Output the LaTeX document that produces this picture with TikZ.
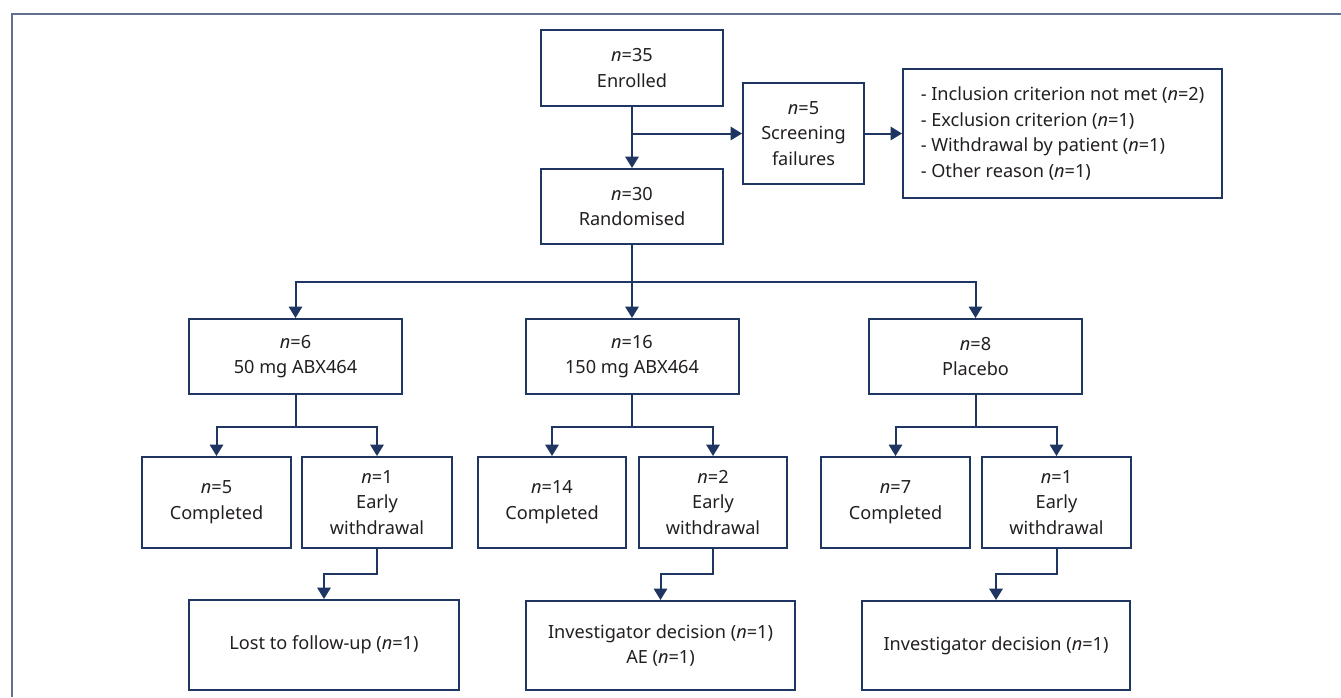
\documentclass[tikz,border=0pt]{standalone}
\usepackage{fontspec}
\setmainfont{Noto Sans}
\usetikzlibrary{arrows.meta}
\definecolor{navy}{HTML}{1F3662}
\definecolor{frame}{HTML}{627091}
\definecolor{txt}{HTML}{231F20}
\begin{document}
\begin{tikzpicture}[x=0.75pt,y=-0.75pt,
  box/.style 2 args={draw=navy,line width=1.5pt,fill=white,inner sep=0pt,
    minimum width=#1*0.75pt,minimum height=#2*0.75pt,align=center,
    text=txt,font=\fontsize{13.6}{19.3}\selectfont},
  conn/.style={draw=navy,line width=1.5pt},
  arr/.style={conn,-{Triangle[width=10pt,length=8.5pt]}}]
\useasboundingbox (0,0) rectangle (1341,697);
\draw[frame,line width=1.5pt] (12,697) -- (12,14) -- (1341,14);

\node[box={182}{76}] (enr) at (632,68) {\textit{n}=35\\Enrolled};
\node[box={182}{75}] (rand) at (632,206.5) {\textit{n}=30\\Randomised};
\node[box={121}{101}] (scr) at (803.5,133.5) {\textit{n}=5\\Screening\\failures};
\node[box={319}{129}, align=left] (rsn) at (1062.5,133.5)
  {- Inclusion criterion not met (\textit{n}=2)\\- Exclusion criterion (\textit{n}=1)\\- Withdrawal by patient (\textit{n}=1)\\- Other reason (\textit{n}=1)};

\node[box={213}{75}] (g1) at (295.5,356.5) {\textit{n}=6\\50 mg ABX464};
\node[box={213}{75}] (g2) at (632,356.5) {\textit{n}=16\\150 mg ABX464};
\node[box={213}{75}] (g3) at (975.5,356.5) {\textit{n}=8\\Placebo};

\node[box={149}{91}] (c1) at (216.5,502.5) {\textit{n}=5\\Completed};
\node[box={150}{91}] (e1) at (377,502.5) {\textit{n}=1\\Early\\withdrawal};
\node[box={148}{91}] (c2) at (552,502.5) {\textit{n}=14\\Completed};
\node[box={148}{91}] (e2) at (713,502.5) {\textit{n}=2\\Early\\withdrawal};
\node[box={149}{91}] (c3) at (895.5,502.5) {\textit{n}=7\\Completed};
\node[box={149}{91}] (e3) at (1056.5,502.5) {\textit{n}=1\\Early\\withdrawal};

\node[box={270}{90}] (l1) at (324,645) {Lost to follow-up (\textit{n}=1)};
\node[box={269}{89}] (l2) at (660.5,645.5) {Investigator decision (\textit{n}=1)\\AE (\textit{n}=1)};
\node[box={268}{89}] (l3) at (996,645.5) {Investigator decision (\textit{n}=1)};

\coordinate (yb) at (0,282);
\coordinate (ys) at (0,427);
\coordinate (yl) at (0,574);

\draw[arr] (enr.south) -- (rand.north);
\draw[arr] (enr.south |- scr.west) -- (scr.west);
\draw[arr] (scr.east) -- (rsn.west);

\draw[arr] (rand.south) -- (g2.north);
\draw[arr] (rand.south |- yb) -| (g1.north);
\draw[arr] (rand.south |- yb) -| (g3.north);

\draw[conn] (g1.south) -- (g1.south |- ys);
\draw[arr] (g1.south |- ys) -| (c1.north);
\draw[arr] (g1.south |- ys) -| (e1.north);
\draw[conn] (g2.south) -- (g2.south |- ys);
\draw[arr] (g2.south |- ys) -| (c2.north);
\draw[arr] (g2.south |- ys) -| (e2.north);
\draw[conn] (g3.south) -- (g3.south |- ys);
\draw[arr] (g3.south |- ys) -| (c3.north);
\draw[arr] (g3.south |- ys) -| (e3.north);

\draw[arr] (e1.south) -- (e1.south |- yl) -| (l1.north);
\draw[arr] (e2.south) -- (e2.south |- yl) -| (l2.north);
\draw[arr] (e3.south) -- (e3.south |- yl) -| (l3.north);
\end{tikzpicture}
\end{document}
